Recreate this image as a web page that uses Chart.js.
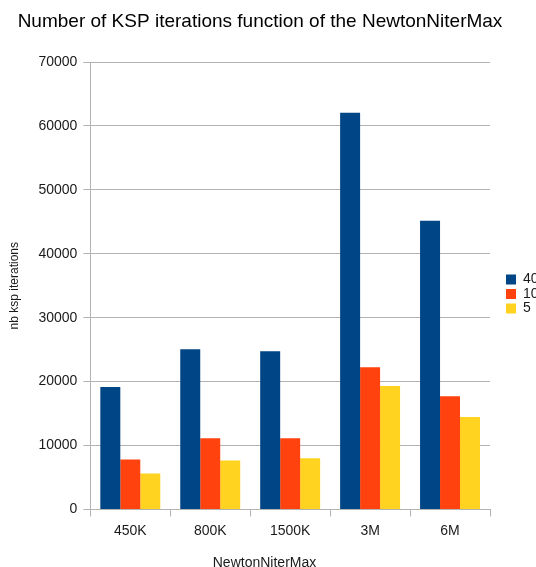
<!DOCTYPE html>
<html>
<head>
<meta charset="utf-8">
<script src="https://cdn.jsdelivr.net/npm/chart.js@4"></script>
<style>
  html, body { margin: 0; padding: 0; background: #ffffff; overflow: hidden; }
  #wrap { width: 536px; height: 567px; }
</style>
</head>
<body>
<div id="wrap"><canvas id="c" width="536" height="567"></canvas></div>
<script>
const categories = ['450K', '800K', '1500K', '3M', '6M'];
const seriesLabels = ['40', '10', '5'];
const s40 = [19150, 25050, 24750, 62050, 45150];
const s10 = [7800, 11150, 11150, 22250, 17700];
const s5 = [5600, 7650, 8000, 19300, 14450];
const yTicks = [0, 10000, 20000, 30000, 40000, 50000, 60000, 70000];
const titleText = 'Number of KSP iterations function of the NewtonNiterMax';
const xTitleText = 'NewtonNiterMax';
const yTitleText = 'nb ksp iterations';

const FONT = "'Liberation Sans', Arial, sans-serif";
const GRID = '#b3b3b3';
const TXT = '#1a1a1a';

const tweak = {
  id: 'tweak',
  beforeLayout(chart) {
    const lg = chart.legend;
    if (lg && !lg._patched) {
      const f = lg.fit;
      lg.fit = function () { f.call(this); this.width = 46; };
      lg._patched = true;
    }
  },
  afterLayout(chart) {
    const lg = chart.legend;
    if (lg) {
      lg.left = 505.5;
      lg.right = 551;
      lg.top = 272;
    }
    if (chart.titleBlock) {
      chart.titleBlock.left = -16;
      chart.titleBlock.right = 536;
    }
    for (const b of chart.boxes) {
      if (b.options && b.options.text === xTitleText) {
        b.left = -7;
        b.right = 536;
      }
    }
  }
};

new Chart(document.getElementById('c'), {
  type: 'bar',
  data: {
    labels: categories,
    datasets: [
      { label: seriesLabels[0], data: s40, backgroundColor: '#004586' },
      { label: seriesLabels[1], data: s10, backgroundColor: '#ff420e' },
      { label: seriesLabels[2], data: s5, backgroundColor: '#ffd320' }
    ]
  },
  options: {
    responsive: false,
    animation: false,
    devicePixelRatio: 1,
    layout: { padding: { left: 0, right: 0, top: 0, bottom: 0 } },
    datasets: { bar: { categoryPercentage: 0.75, barPercentage: 1.0, borderWidth: 0 } },
    plugins: {
      title: {
        display: true, text: titleText, color: '#000000',
        font: { family: FONT, size: 19, weight: 'normal' },
        padding: { top: 10.5, bottom: 28.7 }
      },
      subtitle: {
        display: true, text: xTitleText, position: 'bottom', color: TXT,
        font: { family: FONT, size: 14, weight: 'normal', lineHeight: 0.6 },
        padding: { top: 12.4, bottom: 0 }
      },
      legend: {
        display: true, position: 'right', align: 'start',
        labels: {
          boxWidth: 10, boxHeight: 10, padding: 0.5, color: TXT,
          font: { family: FONT, size: 14 }
        }
      },
      tooltip: { enabled: false }
    },
    scales: {
      x: {
        offset: true,
        grid: {
          offset: true, drawOnChartArea: true, drawTicks: true, tickLength: 7,
          color: (ctx) => (ctx.index === categories.length ? GRID : 'rgba(0,0,0,0)'),
          tickColor: GRID, lineWidth: 1
        },
        border: { display: true, color: GRID },
        ticks: { color: TXT, padding: 6.5, font: { family: FONT, size: 14 } }
      },
      y: {
        min: 0, max: 70000,
        afterBuildTicks: (scale) => { scale.ticks = yTicks.map(v => ({ value: v })); },
        grid: { color: GRID, tickLength: 7, drawTicks: true },
        border: { display: true, color: GRID },
        ticks: {
          color: TXT, padding: 6, font: { family: FONT, size: 14 },
          callback: (v) => String(v)
        },
        title: {
          display: true, text: yTitleText, color: TXT,
          font: { family: FONT, size: 12 },
          padding: { top: 7, bottom: 11 }
        }
      }
    }
  },
  plugins: [tweak]
});
</script>
</body>
</html>
